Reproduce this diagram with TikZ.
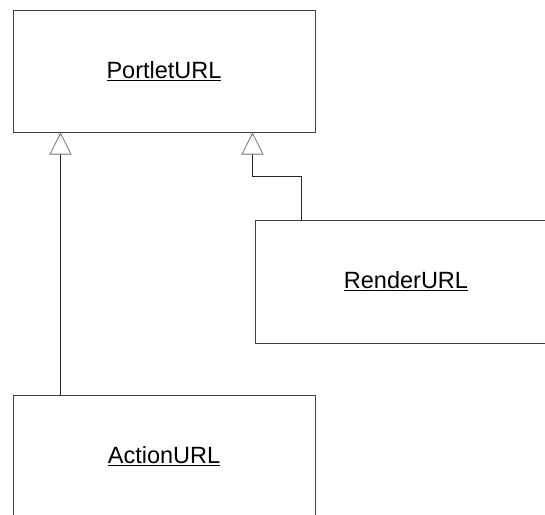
\documentclass[tikz,border=0pt]{standalone}
\usepackage{fontspec}
\setmainfont{Liberation Sans}
\usepackage{tikz}
\usetikzlibrary{arrows.meta}

\begin{document}
\begin{tikzpicture}[x=1pt, y=-1pt, class/.style={rectangle, draw=black!75, line width=1pt, minimum width=302pt, minimum height=122pt, inner sep=0pt, font=\fontsize{23.5}{28}\selectfont}, inherit/.style={draw=black!85, line width=1pt, -{Triangle[open, length=22pt, width=22pt, color=black!55, line width=0.8pt]}}]

    \clip (0,0) rectangle (545,514);

    % Nodes
    \node[class] (portlet)                          at (164,71)     {\underline{PortletURL}};
    \node[class, minimum height=123pt] (render)     at (406,281.5)  {\underline{RenderURL}};
    \node[class] (action)                           at (164,456)    {\underline{ActionURL}};

    % Lines ---------------
    \draw[inherit] ([xshift=48pt]action.north west) -- ([xshift=48pt]portlet.south west);
    \draw[inherit] ([xshift=47pt]render.north west) -- ++(0,-43) -| ([xshift=240pt]portlet.south west);

\end{tikzpicture}
\end{document}
